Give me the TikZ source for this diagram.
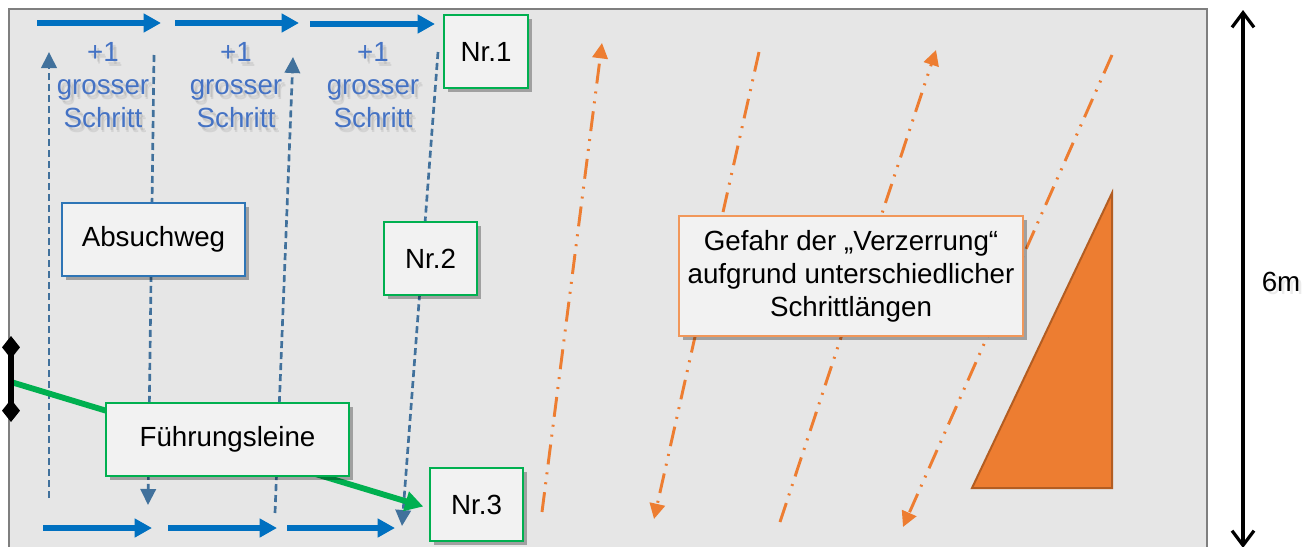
\documentclass[tikz,border=0pt]{standalone}
\usepackage{fontspec}
\setmainfont{Liberation Sans}
\usetikzlibrary{arrows.meta,shadows}
\definecolor{panel}{HTML}{E6E6E6}
\definecolor{frame}{HTML}{7F7F7F}
\definecolor{boxfill}{HTML}{F2F2F2}
\definecolor{grn}{HTML}{00B050}
\definecolor{boxblue}{HTML}{2E75B6}
\definecolor{stepblue}{HTML}{0070C0}
\definecolor{pathblue}{HTML}{41719C}
\definecolor{labelblue}{HTML}{4472C4}
\definecolor{warnorange}{HTML}{ED7D31}
\definecolor{triedge}{HTML}{B35D22}
\tikzset{
  x=0.75pt, y=-0.75pt,
  every node/.style={font=\fontsize{20.8}{24.75}\selectfont},
  box/.style={draw, fill=boxfill, line width=1.2pt, inner sep=0pt, align=center,
    drop shadow={shadow xshift=3pt, shadow yshift=-3pt, opacity=0.3, fill=black}},
  greenbox/.style={box, draw=grn},
  stepline/.style={draw=stepblue, line width=4.6pt, -{Triangle[length=13pt,width=13.5pt]}},
  walkline/.style={draw=pathblue, line width=2pt, dash pattern=on 5.25pt off 3pt,
    -{Triangle[length=12pt,width=11.5pt]}},
  driftline/.style={draw=warnorange, line width=2.2pt,
    dash pattern=on 15pt off 6pt on 1.5pt off 6pt on 1.5pt off 6pt,
    -{Triangle[length=11.5pt,width=11.5pt]}},
  steplabel/.style={text=labelblue, align=center, inner sep=0pt},
  labelshade/.style={text=black, opacity=0.08, align=center, inner sep=0pt},
}
\begin{document}
\begin{tikzpicture}
\useasboundingbox (0,0) rectangle (1316,546);
\clip (0,0) rectangle (1316,546);

% search area
\draw[fill=panel, draw=frame, line width=1.9pt] (9,9) rectangle (1207,570);

% endpoints of the step arrows
\coordinate (t1a) at (37,23);  \coordinate (t1b) at (161,23);
\coordinate (t2a) at (175,23); \coordinate (t2b) at (299,23);
\coordinate (t3a) at (310,24); \coordinate (t3b) at (435,24);
\coordinate (b1a) at (43,528); \coordinate (b1b) at (152,528);
\coordinate (b2a) at (168,528);\coordinate (b2b) at (277,528);
\coordinate (b3a) at (287,528);\coordinate (b3b) at (395,528);

% endpoints of the walking lanes
\coordinate (w1a) at (49,498);  \coordinate (w1b) at (49,52);
\coordinate (w2a) at (154,55);  \coordinate (w2b) at (148,505);
\coordinate (w3a) at (275,513); \coordinate (w3b) at (293,57);
\coordinate (w4a) at (438,52);  \coordinate (w4b) at (402,526);

% endpoints of the drifting lanes
\coordinate (o1a) at (542,512);  \coordinate (o1b) at (602,43);
\coordinate (o2a) at (759,52);   \coordinate (o2b) at (654,519);
\coordinate (o3a) at (780,522);  \coordinate (o3b) at (936,50);
\coordinate (o4a) at (1112,55);  \coordinate (o4b) at (903,527);

% guide line holder
\coordinate (holdtop) at (11,336);
\coordinate (holdbot) at (11,422);
\coordinate (tether) at (11,382);

% width marker
\coordinate (mtop) at (1243,10);
\coordinate (mbot) at (1243,548);

% step arrows
\draw[stepline] (t1a) -- (t1b);
\draw[stepline] (t2a) -- (t2b);
\draw[stepline] (t3a) -- (t3b);
\draw[stepline] (b1a) -- (b1b);
\draw[stepline] (b2a) -- (b2b);
\draw[stepline] (b3a) -- (b3b);

% walking lanes
\draw[walkline] (w1a) -- (w1b);
\draw[walkline] (w2a) -- (w2b);
\draw[walkline] (w3a) -- (w3b);
\draw[walkline] (w4a) -- (w4b);

% drifting lanes
\draw[driftline] (o1a) -- (o1b);
\draw[driftline] (o2a) -- (o2b);
\draw[driftline] (o3a) -- (o3b);
\draw[driftline] (o4a) -- (o4b);

% distortion wedge
\draw[fill=warnorange, draw=triedge, line width=1.5pt, line join=miter]
  (972,488) -- (1112,488) -- (1112,193) -- cycle;

% step labels, each over a faint soft shadow
\foreach \cx/\nm in {103/a,236/b,373/c}{
  \node[labelshade] (shade\nm1) at (\cx+3,88) {+1\\grosser\\Schritt};
  \node[labelshade] (shade\nm2) at (\cx+4,90) {+1\\grosser\\Schritt};
  \node[steplabel] (step\nm) at (\cx,85) {+1\\grosser\\Schritt};
}

% boxes
\node[greenbox, minimum width=63pt, minimum height=54.75pt] (nr1) at (486,51.5) {Nr.1};
\node[greenbox, minimum width=69.75pt, minimum height=54.75pt] (nr2) at (430.5,258.5) {Nr.2};
\node[greenbox, minimum width=69.75pt, minimum height=54.75pt] (nr3) at (476.5,504.5) {Nr.3};
\node[box, draw=boxblue, minimum width=137.25pt, minimum height=54.75pt] (search) at (153.5,239.5) {Absuchweg};

% guide line to Nr.3
\draw[draw=grn, line width=4.4pt, -{Triangle[length=13.5pt,width=14.5pt]}]
  (tether) -- ([xshift=-4.5pt,yshift=-1.5pt]nr3.west);
\draw[line width=4.2pt, {Diamond[length=17pt,width=13.5pt]}-{Diamond[length=17pt,width=13.5pt]}]
  (holdtop) -- (holdbot);

\node[greenbox, minimum width=182.25pt, minimum height=54.75pt] (guide) at (227.5,439.5) {Führungsleine};
\node[box, draw=warnorange!80, minimum width=258pt, minimum height=90pt] (warn) at (851,276)
  {Gefahr der „Verzerrung“\\aufgrund unterschiedlicher\\Schrittlängen};

% width marker
\draw[line width=2.4pt, {Straight Barb[length=11pt,width=16.5pt]}-{Straight Barb[length=11pt,width=16.5pt]}]
  (mtop) -- (mbot);
\node[labelshade] (sixshade) at (1284,285) {6m};
\node[inner sep=0pt] (six) at (1281,282) {6m};
\end{tikzpicture}
\end{document}
